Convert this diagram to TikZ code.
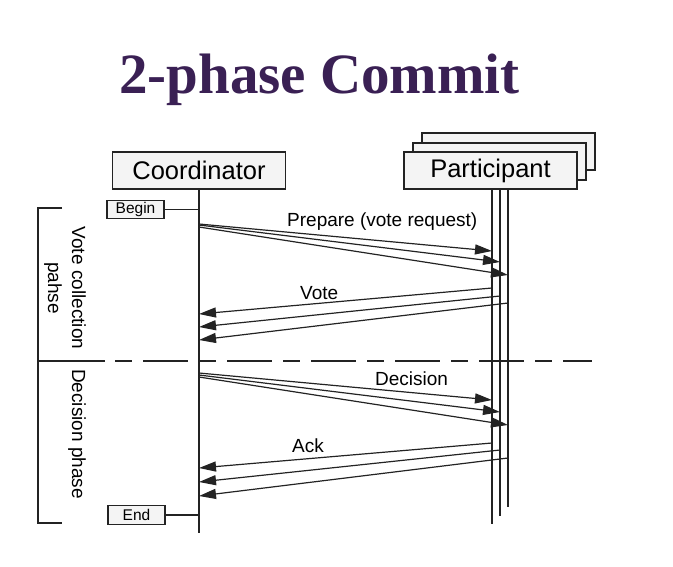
\documentclass[tikz,border=0pt]{standalone}
\usepackage{fontspec}
\setmainfont{Liberation Sans}
\newfontfamily\titlefont{Liberation Serif}
\usepackage{tikz}
\usetikzlibrary{arrows.meta}
\definecolor{titlepurple}{RGB}{58,32,84}
\definecolor{boxgray}{RGB}{244,244,244}
\definecolor{linegray}{RGB}{35,35,35}

\begin{document}
\begin{tikzpicture}[
    x=1pt, y=-1pt,
    every node/.style={font=\fontsize{19}{22}\selectfont, inner sep=0pt},
    actor/.style={draw=linegray, line width=1.3pt, fill=boxgray, minimum width=173pt, minimum height=37pt, font=\fontsize{25.5}{30}\selectfont},
    tag/.style={draw=linegray, line width=1.1pt, fill=boxgray, minimum width=57pt, minimum height=18.5pt, font=\fontsize{15.5}{18}\selectfont},
    life/.style={draw=linegray, line width=1.2pt},
    msg/.style={-{Triangle[length=17pt,width=10pt]}, draw=linegray, line width=1.2pt},
    phase/.style={rotate=-90, align=center, font=\fontsize{19}{24}\selectfont}
]
    \useasboundingbox (0,0) rectangle (673,566);

    % Title
    \node[anchor=base west, text=titlepurple, font=\titlefont\bfseries\fontsize{57}{60}\selectfont] (title) at (119,93) {2-phase Commit};

    % Actors (participant drawn as a stack of three)
    \node[actor] (coord) at (199,170.5) {Coordinator};
    \node[actor] (partC) at (508.5,151.5) {};
    \node[actor] (partB) at (499.5,161.5) {};
    \node[actor] (partA) at (490.5,170.5) {Participant};

    % Lifelines
    \coordinate (coordEnd) at (199,533);
    \coordinate (laTop) at (492,189);
    \coordinate (laEnd) at (492,524);
    \coordinate (lbTop) at (500,189);
    \coordinate (lbEnd) at (500,516);
    \coordinate (lcTop) at (508,189);
    \coordinate (lcEnd) at (508,507);
    \draw[life] (coord.south) -- (coordEnd);
    \draw[life] (laTop) -- (laEnd);
    \draw[life] (lbTop) -- (lbEnd);
    \draw[life] (lcTop) -- (lcEnd);

    % Begin / End tags
    \node[tag] (begin) at (135.5,209.5) {Begin};
    \node[tag] (end) at (136.5,515) {End};
    \draw[life] (begin.east) -- (begin.east -| coord.south);
    \draw[life] (end.east) -- (end.east -| coord.south);

    % Phase bracket and divider
    \draw[life] (62,208) -- (38,208) -- (38,523) -- (62,523);
    \draw[life] (38,361) -- (105,361);
    \draw[life, dash pattern=on 17pt off 11pt on 45pt off 11pt] (115,361) -- (592,361);
    \node[phase] (votePhase) at (65,288) {Vote collection\\pahse};
    \node[phase] (decPhase) at (77,434) {Decision phase};

    % Prepare
    \coordinate (prepFrom1) at (199,224);
    \coordinate (prepFrom2) at (199,225);
    \coordinate (prepFrom3) at (199,227);
    \coordinate (prepTo1) at (492,251);
    \coordinate (prepTo2) at (500,262);
    \coordinate (prepTo3) at (508,275);
    \draw[msg] (prepFrom1) -- (prepTo1);
    \draw[msg] (prepFrom2) -- (prepTo2);
    \draw[msg] (prepFrom3) -- (prepTo3);
    \node[anchor=base west] (prepLabel) at (287,226) {Prepare (vote request)};

    % Vote
    \coordinate (voteFrom1) at (492,288);
    \coordinate (voteFrom2) at (500,296);
    \coordinate (voteFrom3) at (508,303);
    \coordinate (voteTo1) at (199,314);
    \coordinate (voteTo2) at (199,327);
    \coordinate (voteTo3) at (199,340);
    \draw[msg] (voteFrom1) -- (voteTo1);
    \draw[msg] (voteFrom2) -- (voteTo2);
    \draw[msg] (voteFrom3) -- (voteTo3);
    \node[anchor=base west] (voteLabel) at (300,299) {Vote};

    % Decision
    \coordinate (decFrom1) at (199,373);
    \coordinate (decFrom2) at (199,375);
    \coordinate (decFrom3) at (199,377);
    \coordinate (decTo1) at (492,400);
    \coordinate (decTo2) at (500,412);
    \coordinate (decTo3) at (508,425);
    \draw[msg] (decFrom1) -- (decTo1);
    \draw[msg] (decFrom2) -- (decTo2);
    \draw[msg] (decFrom3) -- (decTo3);
    \node[anchor=base west] (decLabel) at (375,385) {Decision};

    % Ack
    \coordinate (ackFrom1) at (492,443);
    \coordinate (ackFrom2) at (500,450);
    \coordinate (ackFrom3) at (508,458);
    \coordinate (ackTo1) at (199,468);
    \coordinate (ackTo2) at (199,482);
    \coordinate (ackTo3) at (199,496);
    \draw[msg] (ackFrom1) -- (ackTo1);
    \draw[msg] (ackFrom2) -- (ackTo2);
    \draw[msg] (ackFrom3) -- (ackTo3);
    \node[anchor=base west] (ackLabel) at (292,452) {Ack};
\end{tikzpicture}
\end{document}
